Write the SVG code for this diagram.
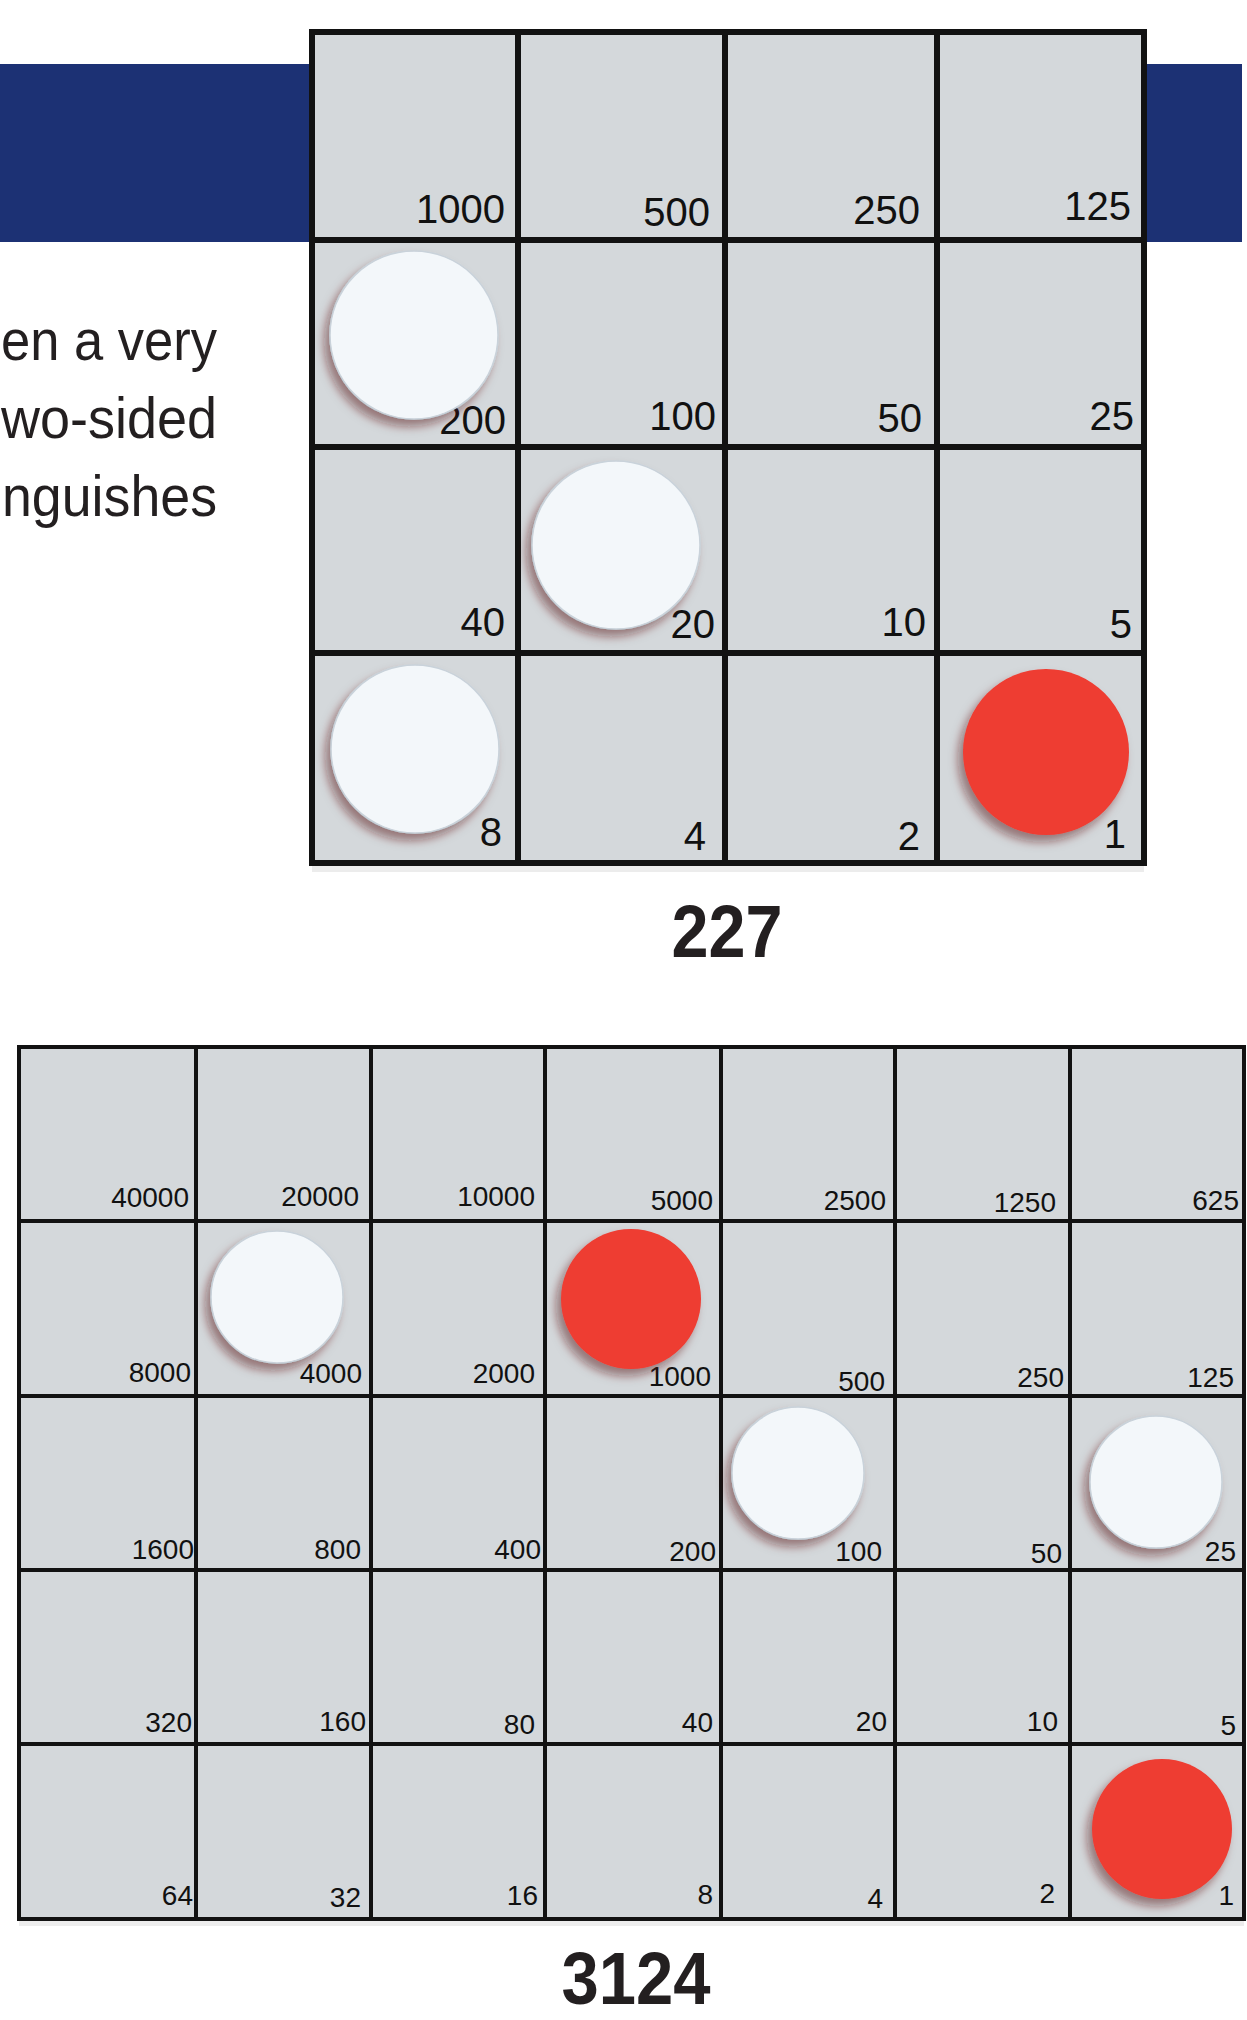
<svg xmlns="http://www.w3.org/2000/svg" width="1247" height="2020" viewBox="0 0 1247 2020">
<style>
.bg{fill:#ffffff}
.band{fill:#1c3174}
.ct{fill:#d4d8db;stroke:#121212;stroke-width:6}
.cb{fill:#d4d8db;stroke:#121212;stroke-width:4}
.lt{font-family:"Liberation Sans",Arial,sans-serif;font-size:40px;fill:#111;text-anchor:end}
.lb{font-family:"Liberation Sans",Arial,sans-serif;font-size:28px;fill:#111;text-anchor:end}
.para{font-family:"Liberation Sans",Arial,sans-serif;font-size:58px;fill:#231f20;text-anchor:end}
.total{font-family:"Liberation Sans",Arial,sans-serif;font-size:74px;font-weight:bold;fill:#231f20;text-anchor:middle}
.w{fill:#f3f7fa;stroke:#c9d2da;stroke-width:1.5;filter:url(#sh)}
.r{fill:#ee3c32;filter:url(#sh)}
</style>
<defs>
<filter id="sh" x="-30%" y="-30%" width="160%" height="160%">
<feDropShadow dx="-5" dy="7" stdDeviation="5" flood-color="#5a1414" flood-opacity="0.5"/>
</filter>
</defs>
<rect class="bg" x="0" y="0" width="1247" height="2020"/>
<rect class="band" x="0" y="64" width="1242" height="178"/>
<g id="paragraph">
<text class="para" x="217" y="360" textLength="216" lengthAdjust="spacingAndGlyphs">en a very</text>
<text class="para" x="217" y="438" textLength="216" lengthAdjust="spacingAndGlyphs">wo-sided</text>
<text class="para" x="217" y="516" textLength="215" lengthAdjust="spacingAndGlyphs">nguishes</text>
</g>
<g id="grid-top">
<rect x="312" y="866" width="832" height="6" fill="#ececec"/>
<g id="t-1000"><rect class="ct" x="312" y="32" width="206" height="208"/><text class="lt" x="505" y="223">1000</text></g>
<g id="t-500"><rect class="ct" x="518" y="32" width="207" height="208"/><text class="lt" x="710" y="226">500</text></g>
<g id="t-250"><rect class="ct" x="725" y="32" width="212" height="208"/><text class="lt" x="920" y="224">250</text></g>
<g id="t-125"><rect class="ct" x="937" y="32" width="207" height="208"/><text class="lt" x="1131" y="220">125</text></g>
<g id="t-200"><rect class="ct" x="312" y="240" width="206" height="207"/><text class="lt" x="506" y="434">200</text></g>
<g id="t-100"><rect class="ct" x="518" y="240" width="207" height="207"/><text class="lt" x="716" y="430">100</text></g>
<g id="t-50"><rect class="ct" x="725" y="240" width="212" height="207"/><text class="lt" x="922" y="432">50</text></g>
<g id="t-25"><rect class="ct" x="937" y="240" width="207" height="207"/><text class="lt" x="1134" y="430">25</text></g>
<g id="t-40"><rect class="ct" x="312" y="447" width="206" height="206"/><text class="lt" x="505" y="636">40</text></g>
<g id="t-20"><rect class="ct" x="518" y="447" width="207" height="206"/><text class="lt" x="715" y="638">20</text></g>
<g id="t-10"><rect class="ct" x="725" y="447" width="212" height="206"/><text class="lt" x="926" y="636">10</text></g>
<g id="t-5"><rect class="ct" x="937" y="447" width="207" height="206"/><text class="lt" x="1132" y="638">5</text></g>
<g id="t-8"><rect class="ct" x="312" y="653" width="206" height="210"/><text class="lt" x="502" y="846">8</text></g>
<g id="t-4"><rect class="ct" x="518" y="653" width="207" height="210"/><text class="lt" x="706" y="850">4</text></g>
<g id="t-2"><rect class="ct" x="725" y="653" width="212" height="210"/><text class="lt" x="920" y="850">2</text></g>
<g id="t-1"><rect class="ct" x="937" y="653" width="207" height="210"/><text class="lt" x="1126" y="848">1</text></g>
</g>
<g id="chips-top">
<g id="tc-200"><circle class="w" cx="414" cy="335" r="84"/></g>
<g id="tc-20"><circle class="w" cx="616" cy="545" r="84"/></g>
<g id="tc-8"><circle class="w" cx="415" cy="749" r="84"/></g>
<g id="tc-1"><circle class="r" cx="1046" cy="752" r="83"/></g>
</g>
<g id="total-top"><text class="total" x="727" y="957" textLength="111" lengthAdjust="spacingAndGlyphs">227</text></g>
<g id="grid-bottom">
<rect x="19" y="1921" width="1225" height="5" fill="#ededed"/>
<g id="b-40000"><rect class="cb" x="19" y="1047" width="177" height="174"/><text class="lb" x="189" y="1207">40000</text></g>
<g id="b-20000"><rect class="cb" x="196" y="1047" width="175" height="174"/><text class="lb" x="359" y="1206">20000</text></g>
<g id="b-10000"><rect class="cb" x="371" y="1047" width="174" height="174"/><text class="lb" x="535" y="1206">10000</text></g>
<g id="b-5000"><rect class="cb" x="545" y="1047" width="176" height="174"/><text class="lb" x="713" y="1210">5000</text></g>
<g id="b-2500"><rect class="cb" x="721" y="1047" width="174" height="174"/><text class="lb" x="886" y="1210">2500</text></g>
<g id="b-1250"><rect class="cb" x="895" y="1047" width="175" height="174"/><text class="lb" x="1056" y="1212">1250</text></g>
<g id="b-625"><rect class="cb" x="1070" y="1047" width="174" height="174"/><text class="lb" x="1239" y="1210">625</text></g>
<g id="b-8000"><rect class="cb" x="19" y="1221" width="177" height="175"/><text class="lb" x="191" y="1382">8000</text></g>
<g id="b-4000"><rect class="cb" x="196" y="1221" width="175" height="175"/><text class="lb" x="362" y="1383">4000</text></g>
<g id="b-2000"><rect class="cb" x="371" y="1221" width="174" height="175"/><text class="lb" x="535" y="1383">2000</text></g>
<g id="b-1000"><rect class="cb" x="545" y="1221" width="176" height="175"/><text class="lb" x="711" y="1386">1000</text></g>
<g id="b-500"><rect class="cb" x="721" y="1221" width="174" height="175"/><text class="lb" x="885" y="1391">500</text></g>
<g id="b-250"><rect class="cb" x="895" y="1221" width="175" height="175"/><text class="lb" x="1064" y="1387">250</text></g>
<g id="b-125"><rect class="cb" x="1070" y="1221" width="174" height="175"/><text class="lb" x="1234" y="1387">125</text></g>
<g id="b-1600"><rect class="cb" x="19" y="1396" width="177" height="174"/><text class="lb" x="194" y="1559">1600</text></g>
<g id="b-800"><rect class="cb" x="196" y="1396" width="175" height="174"/><text class="lb" x="361" y="1559">800</text></g>
<g id="b-400"><rect class="cb" x="371" y="1396" width="174" height="174"/><text class="lb" x="541" y="1559">400</text></g>
<g id="b-200"><rect class="cb" x="545" y="1396" width="176" height="174"/><text class="lb" x="716" y="1561">200</text></g>
<g id="b-100"><rect class="cb" x="721" y="1396" width="174" height="174"/><text class="lb" x="882" y="1561">100</text></g>
<g id="b-50"><rect class="cb" x="895" y="1396" width="175" height="174"/><text class="lb" x="1062" y="1563">50</text></g>
<g id="b-25"><rect class="cb" x="1070" y="1396" width="174" height="174"/><text class="lb" x="1236" y="1561">25</text></g>
<g id="b-320"><rect class="cb" x="19" y="1570" width="177" height="174"/><text class="lb" x="192" y="1732">320</text></g>
<g id="b-160"><rect class="cb" x="196" y="1570" width="175" height="174"/><text class="lb" x="366" y="1731">160</text></g>
<g id="b-80"><rect class="cb" x="371" y="1570" width="174" height="174"/><text class="lb" x="535" y="1734">80</text></g>
<g id="b-40"><rect class="cb" x="545" y="1570" width="176" height="174"/><text class="lb" x="713" y="1732">40</text></g>
<g id="b-20"><rect class="cb" x="721" y="1570" width="174" height="174"/><text class="lb" x="887" y="1731">20</text></g>
<g id="b-10"><rect class="cb" x="895" y="1570" width="175" height="174"/><text class="lb" x="1058" y="1731">10</text></g>
<g id="b-5"><rect class="cb" x="1070" y="1570" width="174" height="174"/><text class="lb" x="1236" y="1735">5</text></g>
<g id="b-64"><rect class="cb" x="19" y="1744" width="177" height="175"/><text class="lb" x="193" y="1905">64</text></g>
<g id="b-32"><rect class="cb" x="196" y="1744" width="175" height="175"/><text class="lb" x="361" y="1907">32</text></g>
<g id="b-16"><rect class="cb" x="371" y="1744" width="174" height="175"/><text class="lb" x="538" y="1905">16</text></g>
<g id="b-8"><rect class="cb" x="545" y="1744" width="176" height="175"/><text class="lb" x="713" y="1904">8</text></g>
<g id="b-4"><rect class="cb" x="721" y="1744" width="174" height="175"/><text class="lb" x="883" y="1908">4</text></g>
<g id="b-2"><rect class="cb" x="895" y="1744" width="175" height="175"/><text class="lb" x="1055" y="1903">2</text></g>
<g id="b-1"><rect class="cb" x="1070" y="1744" width="174" height="175"/><text class="lb" x="1234" y="1905">1</text></g>
</g>
<g id="chips-bottom">
<g id="bc-4000"><circle class="w" cx="277" cy="1297" r="66"/></g>
<g id="bc-1000"><circle class="r" cx="631" cy="1299" r="70"/></g>
<g id="bc-100"><circle class="w" cx="798" cy="1473" r="66"/></g>
<g id="bc-25"><circle class="w" cx="1156" cy="1482" r="66"/></g>
<g id="bc-1"><circle class="r" cx="1162" cy="1829" r="70"/></g>
</g>
<g id="total-bottom"><text class="total" x="636" y="2004" textLength="149" lengthAdjust="spacingAndGlyphs">3124</text></g>
</svg>
